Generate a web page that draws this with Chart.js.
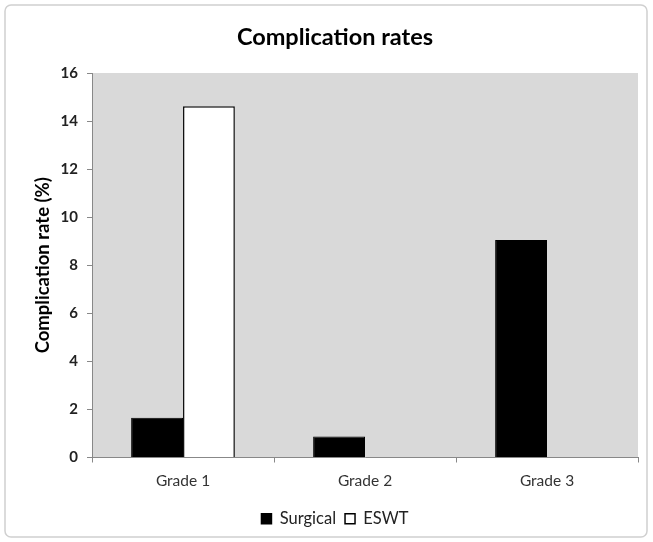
<!DOCTYPE html>
<html><head><meta charset="utf-8">
<script src="https://cdn.jsdelivr.net/npm/chart.js@4"></script>
<style>html,body{margin:0;padding:0;background:#fff}#wrap{width:653px;height:542px;position:relative}</style>
</head><body><div id="wrap"><canvas id="c" width="653" height="542"></canvas></div>
<script>
const categories = ["Grade 1", "Grade 2", "Grade 3"];
const surgical = [1.65, 0.87, 9.05];
const eswt = [14.62, null, null];
const yTicks = [0, 2, 4, 6, 8, 10, 12, 14, 16];

const FONT = "Lato, 'Open Sans', sans-serif";

const bgPlugin = {
  id: 'bg',
  beforeDraw(chart) {
    const ctx = chart.ctx, a = chart.chartArea;
    ctx.save();
    ctx.fillStyle = '#fff';
    ctx.fillRect(0, 0, chart.width, chart.height);
    ctx.strokeStyle = '#d0d0d0';
    ctx.lineWidth = 1.5;
    ctx.beginPath();
    ctx.roundRect(5, 5, 642, 532, 6);
    ctx.stroke();
    ctx.fillStyle = '#d9d9d9';
    ctx.fillRect(a.left, a.top, a.right - a.left, a.bottom - a.top);
    ctx.restore();
  }
};

new Chart(document.getElementById('c'), {
  type: 'bar',
  data: {
    labels: categories,
    datasets: [
      { label: 'Surgical', data: surgical, backgroundColor: '#000', borderColor: '#000', borderWidth: 1 },
      { label: 'ESWT', data: eswt, backgroundColor: '#fff', borderColor: '#111', borderWidth: 1.5 }
    ]
  },
  options: {
    responsive: false,
    animation: false,
    devicePixelRatio: 1,
    categoryPercentage: 0.57,
    barPercentage: 1.0,
    layout: { padding: { left: 32, right: 15, top: 0, bottom: 5 } },
    plugins: {
      title: { display: true, text: 'Complication rates', color: '#000',
        font: { family: FONT, size: 23.5, weight: 'bold' }, padding: { top: 23, bottom: 21.8 } },
      legend: { position: 'bottom',
        labels: { color: '#222', font: { family: FONT, size: 16.5 }, boxWidth: 10, boxHeight: 10, padding: 9,
          generateLabels(chart) {
            return chart.data.datasets.map((d, i) => ({ text: d.label, fillStyle: d.backgroundColor,
              strokeStyle: '#000', lineWidth: 1.5, datasetIndex: i, fontColor: '#222' }));
          } } },
      tooltip: { enabled: false }
    },
    scales: {
      x: {
        grid: { display: true, drawOnChartArea: false, drawTicks: true, tickLength: 5, color: '#888', offset: true },
        border: { display: true, color: '#888', width: 1 },
        ticks: { color: '#333', font: { family: FONT, size: 15.5 }, padding: 9 },
        afterFit(s) { s.height = 44; }
      },
      y: {
        min: 0, max: 16,
        afterBuildTicks(s) { s.ticks = yTicks.map(v => ({ value: v })); },
        grid: { display: true, drawOnChartArea: false, drawTicks: true, tickLength: 5, color: '#888' },
        border: { display: true, color: '#888', width: 1 },
        ticks: { color: '#222', font: { family: FONT, size: 15, weight: 'bold' }, padding: 9 },
        title: { display: true, text: 'Complication rate (%)', color: '#000',
          font: { family: FONT, size: 18.5, weight: 'bold' }, padding: { top: 0, bottom: 0 } },
        afterFit(s) { s.width = 60; }
      }
    }
  },
  plugins: [bgPlugin]
});
</script></body></html>
